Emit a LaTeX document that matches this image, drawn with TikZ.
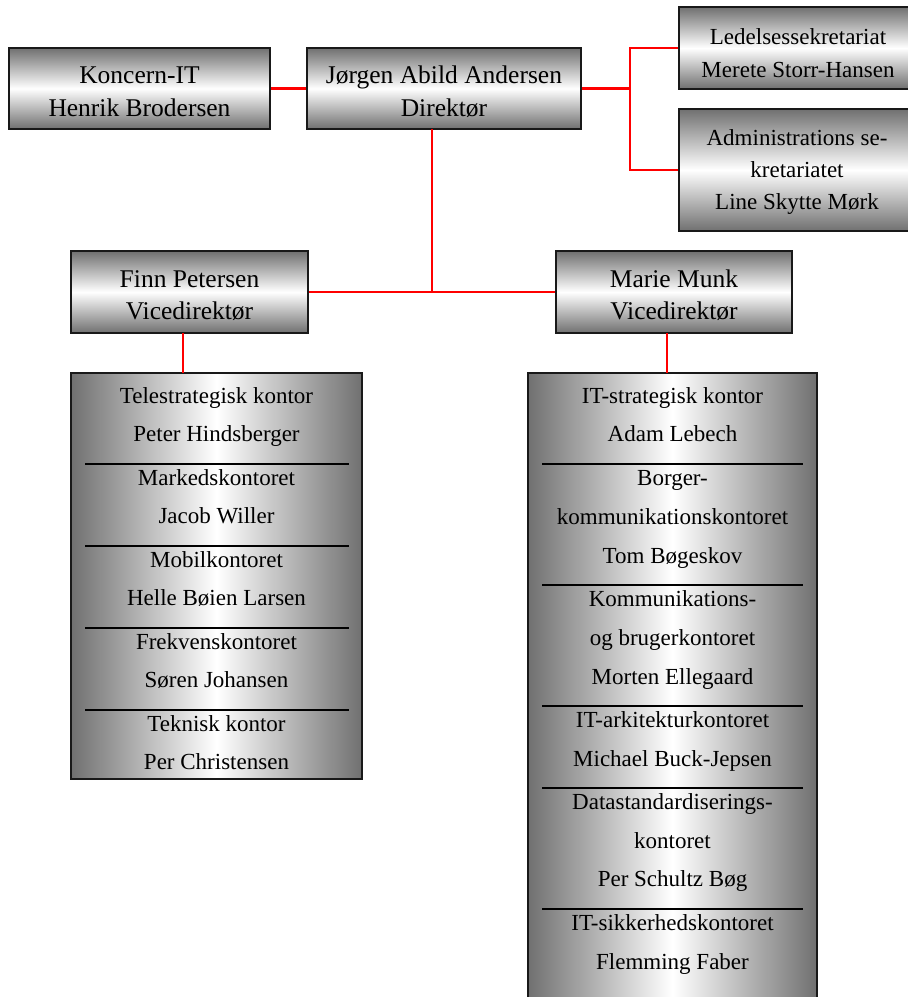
\documentclass[tikz,border=0pt]{standalone}
\usepackage{fontspec}
\setmainfont{Liberation Serif}
\definecolor{shd}{RGB}{112,112,112}
\definecolor{lnred}{RGB}{255,0,0}
\definecolor{edge}{RGB}{25,25,25}
\tikzset{
  vbox/.style={draw=edge, line width=1.6pt, inner sep=0pt,
    top color=shd, bottom color=shd, middle color=white},
  hbox/.style={draw=edge, line width=1.6pt, inner sep=0pt,
    left color=shd, right color=shd, middle color=white},
  big/.style={font=\fontsize{25.5}{30}\selectfont, anchor=base, inner sep=0pt},
  small/.style={font=\fontsize{23}{28}\selectfont, anchor=base, inner sep=0pt},
  link/.style={draw=lnred, line width=2.6pt},
  sepline/.style={draw=black, line width=2pt}
}
\begin{document}
\begin{tikzpicture}[x=1pt,y=-1pt]
\useasboundingbox (0,0) rectangle (908,997);
\clip (0,0) rectangle (908,997);

% top level boxes
\node[vbox, minimum width=261pt, minimum height=81pt] (koncern) at (139.5,88.5) {};
\node[vbox, minimum width=274pt, minimum height=81pt] (jorgen) at (444,88.5) {};
\node[vbox, minimum width=238pt, minimum height=82pt] (ledelses) at (798,48) {};
\node[vbox, minimum width=238pt, minimum height=122pt] (admin) at (798,170) {};
\node[vbox, minimum width=237pt, minimum height=82pt] (finn) at (189.5,292) {};
\node[vbox, minimum width=236pt, minimum height=82pt] (marie) at (674,292) {};

% department boxes
\node[hbox, minimum width=291pt, minimum height=406pt] (deptL) at (216.5,576) {};
\node[hbox, minimum width=289pt, minimum height=637pt] (deptR) at (672.5,691.5) {};

% separators
\draw[sepline] (85,464) -- (349,464);
\draw[sepline] (85,546) -- (349,546);
\draw[sepline] (85,628) -- (349,628);
\draw[sepline] (85,710) -- (349,710);
\draw[sepline] (542,464) -- (803,464);
\draw[sepline] (542,585) -- (803,585);
\draw[sepline] (542,706) -- (803,706);
\draw[sepline] (542,788) -- (803,788);
\draw[sepline] (542,909) -- (803,909);

% connectors
\coordinate (jr) at (630,88.5);
\coordinate (jb) at (432,129);
\coordinate (mid) at (432,292);
\coordinate (fb) at (183,333);
\coordinate (fd) at (183,373);
\coordinate (mb) at (667,333);
\coordinate (md) at (667,373);
\draw[link] (koncern.east) -- (jorgen.west);
\draw[link] (jorgen.east) -- (jr);
\draw[link] (ledelses.west) -| (jr) |- (admin.west);
\draw[link] (jb) -- (mid);
\draw[link] (finn.east) -- (marie.west);
\draw[link] (fb) -- (fd);
\draw[link] (mb) -- (md);

% texts top
\node[big] (t1) at (139.5,83) {Koncern-IT};
\node[big] (t2) at (139.5,116) {Henrik Brodersen};
\node[big] (t3) at (444,83) {Jørgen Abild Andersen};
\node[big] (t4) at (444,116) {Direktør};
\node[big] (t5) at (189.5,287) {Finn Petersen};
\node[big] (t6) at (189.5,319) {Vicedirektør};
\node[big] (t7) at (674,287) {Marie Munk};
\node[big] (t8) at (674,319) {Vicedirektør};
\node[small] (t9) at (798,44) {Ledelsessekretariat};
\node[small] (t10) at (798,77) {Merete Storr-Hansen};
\node[small] (t11) at (797,145) {Administrations se-};
\node[small] (t12) at (797,177) {kretariatet};
\node[small] (t13) at (797,209) {Line Skytte Mørk};

% left departments
\node[small] (l1) at (216.5,403) {Telestrategisk kontor};
\node[small] (l2) at (216.5,441) {Peter Hindsberger};
\node[small] (l3) at (216.5,485) {Markedskontoret};
\node[small] (l4) at (216.5,523) {Jacob Willer};
\node[small] (l5) at (216.5,567) {Mobilkontoret};
\node[small] (l6) at (216.5,605) {Helle Bøien Larsen};
\node[small] (l7) at (216.5,649) {Frekvenskontoret};
\node[small] (l8) at (216.5,687) {Søren Johansen};
\node[small] (l9) at (216.5,731) {Teknisk kontor};
\node[small] (l10) at (216.5,769) {Per Christensen};

% right departments
\node[small] (r1) at (672.5,403) {IT-strategisk kontor};
\node[small] (r2) at (672.5,441) {Adam Lebech};
\node[small] (r3) at (672.5,485) {Borger-};
\node[small] (r4) at (672.5,524) {kommunikationskontoret};
\node[small] (r5) at (672.5,563) {Tom Bøgeskov};
\node[small] (r6) at (672.5,606) {Kommunikations-};
\node[small] (r7) at (672.5,645) {og brugerkontoret};
\node[small] (r8) at (672.5,684) {Morten Ellegaard};
\node[small] (r9) at (672.5,727) {IT-arkitekturkontoret};
\node[small] (r10) at (672.5,766) {Michael Buck-Jepsen};
\node[small] (r11) at (672.5,809) {Datastandardiserings-};
\node[small] (r12) at (672.5,848) {kontoret};
\node[small] (r13) at (672.5,886) {Per Schultz Bøg};
\node[small] (r14) at (672.5,930) {IT-sikkerhedskontoret};
\node[small] (r15) at (672.5,969) {Flemming Faber};
\end{tikzpicture}
\end{document}
